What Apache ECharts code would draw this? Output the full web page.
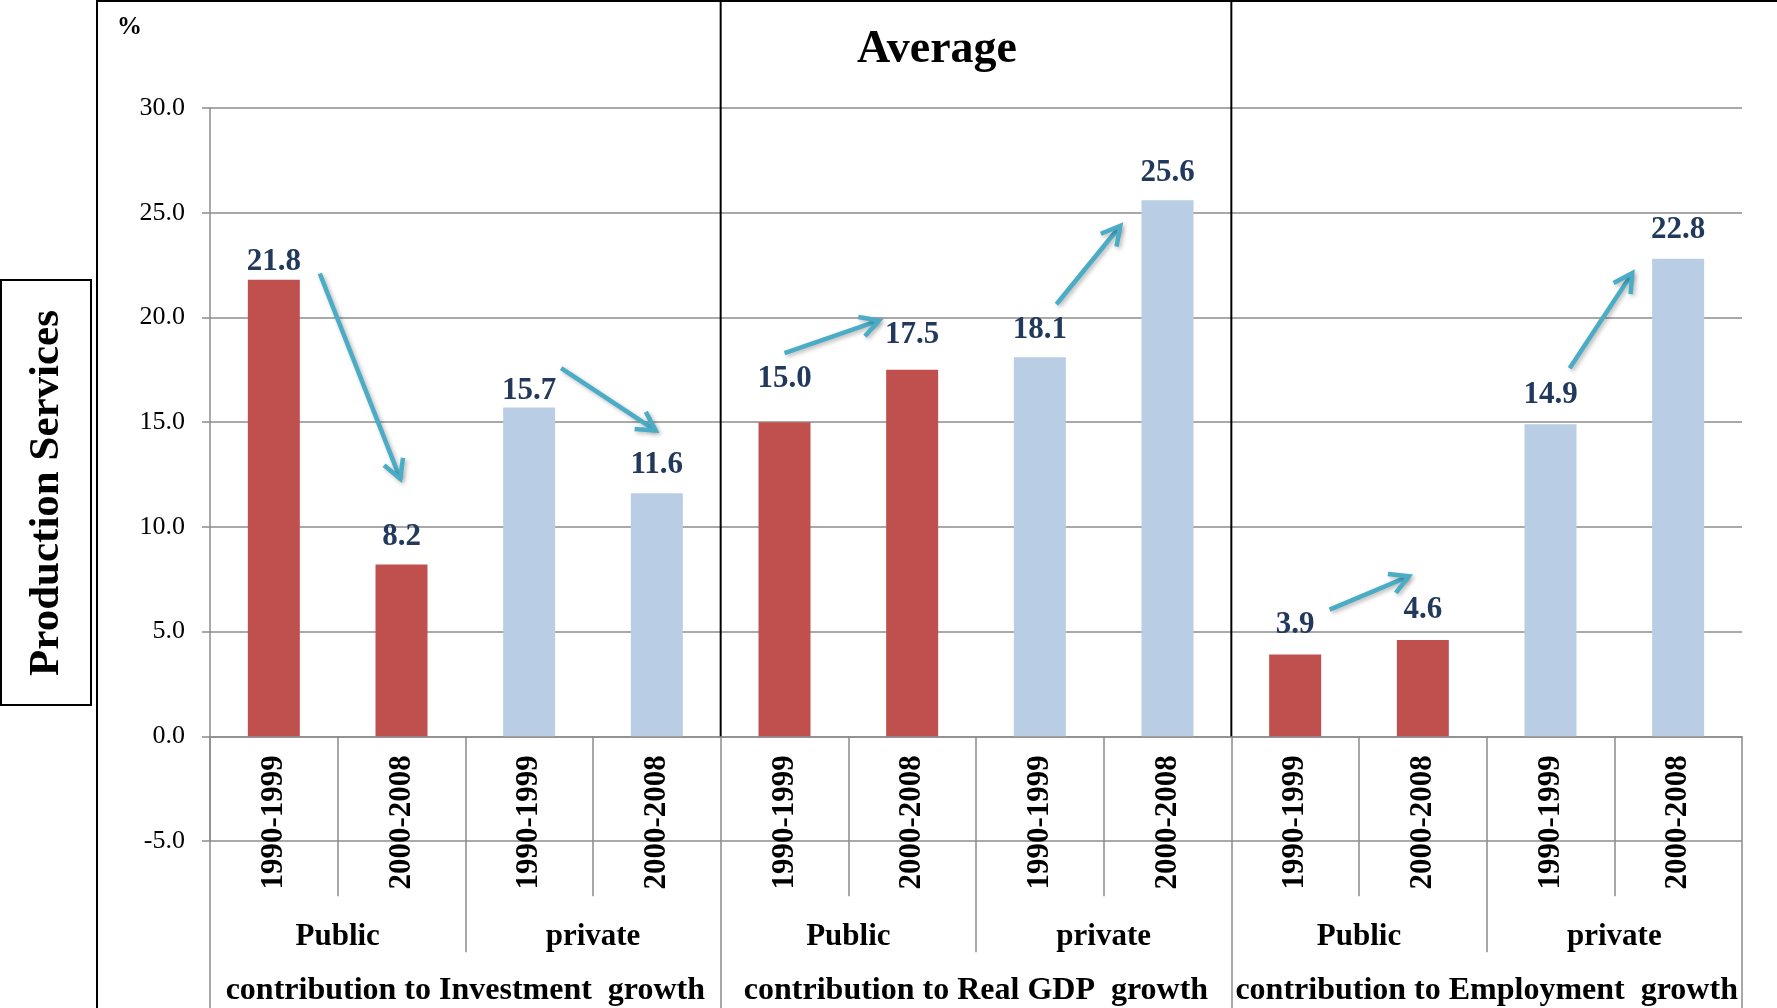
<!DOCTYPE html>
<html>
<head>
<meta charset="utf-8">
<title>Production Services – Average contributions</title>
<script src="https://cdn.jsdelivr.net/npm/echarts@6/dist/echarts.min.js"></script>
<style>
  html, body { margin: 0; padding: 0; background: #ffffff; }
  #chart { width: 1777px; height: 1008px; }
</style>
</head>
<body>
<div id="chart"></div>
<script>
// ---- data ----------------------------------------------------------------
const periods = [
  '1990-1999', '2000-2008', '1990-1999', '2000-2008',
  '1990-1999', '2000-2008', '1990-1999', '2000-2008',
  '1990-1999', '2000-2008', '1990-1999', '2000-2008'
];
const sectors = ['Public', 'private', 'Public', 'private', 'Public', 'private'];
const measures = [
  'contribution to Investment  growth',
  'contribution to Real GDP  growth',
  'contribution to Employment  growth'
];
// share of production services (%), one value per period column
const shares = [21.8, 8.2, 15.7, 11.6, 15.0, 17.5, 18.1, 25.6, 3.9, 4.6, 14.9, 22.8];
const valueMin = -5;
const valueMax = 30;
const valueStep = 5;
// trend arrows: [fromColumn, fromValue, toColumn, toValue]
const trendArrows = [
  [0.36, 22.10, 0.99, 12.30],
  [2.25, 17.58, 2.99, 14.60],
  [4.00, 18.30, 4.74, 19.85],
  [6.13, 20.63, 6.63, 24.37],
  [8.27, 6.05, 8.89, 7.64],
  [10.15, 17.57, 10.64, 22.11]
];

// ---- styling ---------------------------------------------------------------
const SERIF = '"Liberation Serif", "Times New Roman", serif';
const GRID_GRAY = '#8c8c8c';
const PUBLIC_RED = '#C0504D';
const PRIVATE_BLUE = '#B9CDE5';
const LABEL_NAVY = '#22395c';
const ARROW_TEAL = '#4BACC6';
// extra lift (px) for each value label above its bar
const labelLift = [2, 12, 1, 13, 28, 19, 12, 12, 14, 14, 14, 13];

const GRID = { left: 210, right: 35, top: 108, bottom: 167 };
const gridHeight = 1008 - GRID.top - GRID.bottom;
// the category axes sit on the zero line rather than on the grid's bottom edge
const zeroOffset = -gridHeight * (0 - valueMin) / (valueMax - valueMin);

const sectorOfColumn = i => sectors[Math.floor(i / 2)];

const barData = shares.map((v, i) => ({
  value: v,
  itemStyle: { color: sectorOfColumn(i) === 'Public' ? PUBLIC_RED : PRIVATE_BLUE },
  label: { distance: labelLift[i] }
}));

const chart = echarts.init(document.getElementById('chart'), null, { renderer: 'canvas' });

const grayLine = { color: GRID_GRAY, width: 1.5 };

function categoryAxis(data, showLine, tickLen, labelExtra) {
  return {
    type: 'category',
    data: data,
    position: 'bottom',
    offset: zeroOffset,
    axisLine: { show: showLine, onZero: false, lineStyle: grayLine },
    axisTick: { show: true, interval: 0, length: tickLen, alignWithLabel: false, inside: false, lineStyle: grayLine },
    axisLabel: Object.assign({
      interval: 0, fontFamily: SERIF, fontWeight: 'bold', color: '#000', hideOverlap: false
    }, labelExtra),
    splitLine: { show: false }
  };
}

const option = {
  animation: false,
  backgroundColor: '#ffffff',
  grid: Object.assign({ containLabel: false, outerBoundsMode: 'none' }, GRID),
  xAxis: [
    categoryAxis(periods, true, 160, { rotate: 90, margin: 19, fontSize: 31 }),
    categoryAxis(sectors, false, 216, { margin: 185, fontSize: 31, lineHeight: 32 }),
    categoryAxis(measures, false, 272, { margin: 238, fontSize: 32, lineHeight: 32 }),
    {
      // continuous column scale used to place the trend arrows
      type: 'value', min: -0.5, max: 11.5, show: false,
      axisLine: { onZero: false }
    }
  ],
  yAxis: [
    {
      type: 'value',
      min: valueMin, max: valueMax, interval: valueStep,
      position: 'left',
      axisLine: { show: true, onZero: false, lineStyle: grayLine },
      axisTick: { show: true, length: 8, inside: false, lineStyle: grayLine },
      axisLabel: {
        margin: 25, formatter: v => v.toFixed(1),
        fontFamily: SERIF, fontSize: 26, color: '#000'
      },
      splitLine: { show: true, lineStyle: grayLine }
    }
  ],
  series: [
    {
      type: 'bar',
      xAxisIndex: 0,
      yAxisIndex: 0,
      barWidth: 52,
      data: barData,
      label: {
        show: true,
        position: 'top',
        formatter: p => Number(p.value).toFixed(1),
        fontFamily: SERIF, fontWeight: 'bold', fontSize: 31, color: LABEL_NAVY
      },
      z: 2
    },
    {
      type: 'custom',
      xAxisIndex: 3,
      yAxisIndex: 0,
      data: trendArrows,
      encode: { x: [0, 2], y: [1, 3] },
      clip: false,
      silent: true,
      z: 5,
      renderItem: function (params, api) {
        const p0 = api.coord([api.value(0), api.value(1)]);
        const p1 = api.coord([api.value(2), api.value(3)]);
        const back = Math.atan2(p0[1] - p1[1], p0[0] - p1[0]);
        const armLen = 21;
        const spread = 29 * Math.PI / 180;
        const a1 = [p1[0] + armLen * Math.cos(back + spread), p1[1] + armLen * Math.sin(back + spread)];
        const a2 = [p1[0] + armLen * Math.cos(back - spread), p1[1] + armLen * Math.sin(back - spread)];
        const tipInset = [p1[0] + 2 * Math.cos(back), p1[1] + 2 * Math.sin(back)];
        const style = {
          stroke: ARROW_TEAL, fill: null, lineWidth: 4.5,
          lineCap: 'butt', lineJoin: 'miter',
          shadowBlur: 4, shadowColor: 'rgba(0,0,0,0.28)', shadowOffsetX: 2, shadowOffsetY: 2
        };
        return {
          type: 'group',
          children: [
            { type: 'line', shape: { x1: p0[0], y1: p0[1], x2: tipInset[0], y2: tipInset[1] }, style: style },
            { type: 'polyline', shape: { points: [a1, p1, a2] }, style: style }
          ]
        };
      }
    }
  ]
};

chart.setOption(option);

// ---- frame, section dividers and captions -------------------------------
const zeroY = chart.convertToPixel({ yAxisIndex: 0 }, 0);
const dividerXs = [3.5, 7.5].map(c => chart.convertToPixel({ xAxisIndex: 3 }, c));
const black = { stroke: '#000', lineWidth: 2 };

const graphics = [
  { type: 'line', shape: { x1: 97, y1: 0, x2: 97, y2: 1008 }, style: black },
  { type: 'line', shape: { x1: 97, y1: 1, x2: 1777, y2: 1 }, style: black }
];
dividerXs.forEach(x => {
  graphics.push({ type: 'line', shape: { x1: x, y1: 0, x2: x, y2: zeroY }, style: black, z: 10 });
});
graphics.push(
  { type: 'rect', shape: { x: 1, y: 280, width: 90, height: 425 },
    style: { stroke: '#000', lineWidth: 2, fill: null } },
  { type: 'text', x: 47, y: 493, rotation: Math.PI / 2,
    style: { text: 'Production Services', fontFamily: SERIF, fontWeight: 'bold', fontSize: 43,
             fill: '#000', align: 'center', verticalAlign: 'middle' } },
  { type: 'text', x: 117, y: 28,
    style: { text: '%', fontFamily: SERIF, fontWeight: 'bold', fontSize: 25,
             fill: '#000', align: 'left', verticalAlign: 'middle' } },
  { type: 'text', x: 937, y: 50,
    style: { text: 'Average', fontFamily: SERIF, fontWeight: 'bold', fontSize: 46,
             fill: '#000', align: 'center', verticalAlign: 'middle' } }
);

chart.setOption({ graphic: { elements: graphics } });
</script>
</body>
</html>
